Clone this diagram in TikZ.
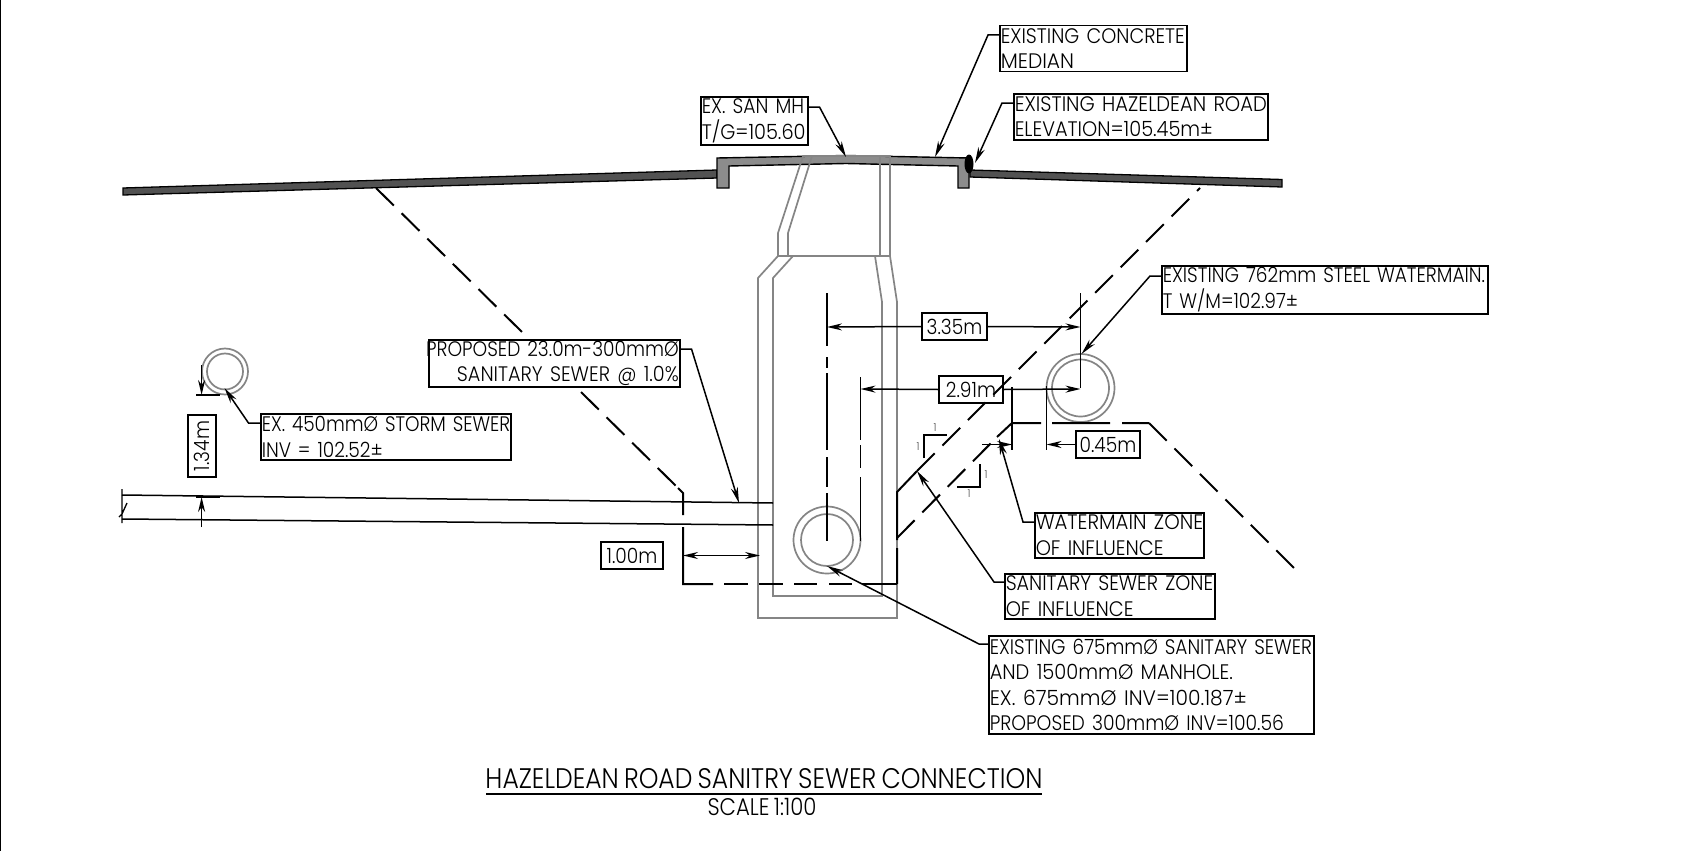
\documentclass[tikz,border=0pt]{standalone}
\usepackage{fontspec}
\setmainfont{Poppins}[UprightFont={* Light},FakeStretch=0.885,WordSpace=0.75]
\usetikzlibrary{arrows.meta}
\newcommand{\lnl}[2][1]{\makebox[\linewidth][l]{\scalebox{#1}[1]{#2}}}
\newcommand{\lnr}[2][1]{\makebox[\linewidth][r]{\scalebox{#1}[1]{#2}}}
\tikzset{
  lbl/.style={draw=black,line width=1.5pt,inner sep=1pt,anchor=north west,align=left,font=\fontsize{21}{25.5}\selectfont},
  dimbox/.style={draw=black,line width=1.6pt,inner sep=0pt,anchor=center,align=center,font=\fontsize{21}{25}\selectfont},
  leader/.style={line width=1.5pt,-{Stealth[length=16pt,width=7pt]}},
  dimline/.style={line width=1.5pt,-{Stealth[length=15pt,width=7pt]}},
  ext/.style={line width=1.5pt},
  mh/.style={draw=black!48,line width=1.7pt},
  zone/.style={line width=2pt,dash pattern=on 25pt off 11pt},
  zonesolid/.style={line width=2pt},
  tiny1/.style={font=\fontsize{11}{11}\selectfont,text=black!70,inner sep=0pt},
  slope/.style={line width=1.3pt}
}
\begin{document}
\begin{tikzpicture}[x=1pt,y=-1pt]
\useasboundingbox (0,0) rectangle (1706,851);
\fill[white] (0,0) rectangle (1706,851);
\draw[line width=1.4pt] (0.7,0) -- (0.7,851);
% road
\draw[fill=black!68,line width=1.3pt] (123,188) -- (717,170) -- (717,178) -- (123,195) -- cycle;
\draw[fill=black!68,line width=1.3pt] (970,170) -- (1282,179.5) -- (1282,187) -- (970,177) -- cycle;
% median
\draw[fill=black!45,line width=1.4pt] (717,158) -- (846,155.5) -- (969,158) -- (969,188) -- (958,188) -- (958,166) -- (846,163.5) -- (729,166) -- (729,188) -- (717,188) -- cycle;
\fill[black] (969,164) ellipse [x radius=4.5pt,y radius=9.5pt];
% manhole
\draw[mh] (803,156) -- (778,233) -- (778,256) -- (758,278) -- (758,618) -- (897,618) -- (897,302) -- (890,256) -- (890,156) -- cycle;
\draw[mh] (812,156) -- (788,233) -- (788,256);
\draw[mh] (880,156) -- (880,256);
\draw[mh] (778,256) -- (890,256);
\draw[mh] (793,256) -- (773,278) -- (773,596) -- (882,596) -- (882,302) -- (875,256);
\draw[mh] (827,540) circle (33.5pt);
\draw[mh] (827,540) circle (26pt);
\draw[mh] (1080.5,388) circle (34pt);
\draw[mh] (1080.5,388) circle (28.5pt);
\draw[mh] (225,371.5) circle (23pt);
\draw[mh] (225,371.5) circle (18pt);
% pipe
\draw[line width=1.5pt] (122,495) -- (773,503);
\draw[line width=1.5pt] (122,519) -- (773,525);
\draw[line width=1.3pt] (122,489) -- (122,523) (127,503) -- (122,514) -- (119,517);
% zones of influence
\draw[zone] (376,188) -- (522,332);
\draw[zone] (581,392) -- (678,488);
\draw[zonesolid] (678,488) -- (683,493) -- (683,515) (683,527) -- (683,584) -- (713,584);
\draw[zonesolid] (724,584) -- (748,584) (759,584) -- (783,584) (794,584) -- (817,584) (829,584) -- (852,584) (862,584) -- (897,584);
\draw[zonesolid] (897,584) -- (897,548) (897,540) -- (897,492) -- (917,471);
\draw[zone] (917,471) -- (1200,188);
\draw[zone] (897,538) -- (997,437);
\draw[zonesolid] (997,437) -- (1012,423) -- (1041,423) (1052,423) -- (1110,423) (1122,423) -- (1149,423);
\draw[zone] (1149,423) -- (1297,571);
% slope marks
\draw[slope] (924,458) -- (924,435) -- (947,435);
\draw[slope] (957,487) -- (980,487) -- (980,464);
\node[tiny1] (s1) at (935,428) {1};
\node[tiny1] (s2) at (918,447) {1};
\node[tiny1] (s3) at (969,494) {1};
\node[tiny1] (s4) at (986,475) {1};
% extension lines
\draw[ext] (827,293) -- (827,346) (827,357) -- (827,368) (827,373) -- (827,450) (827,457) -- (827,487) (827,493) -- (827,541);
\draw[ext] (1080.5,293) -- (1080.5,388);
\draw[ext] (860.5,377) -- (860.5,440) (860.5,445) -- (860.5,468) (860.5,477) -- (860.5,541);
\draw[ext] (1012,387) -- (1012,450);
\draw[ext] (1046.5,386) -- (1046.5,450);
\draw[ext] (196,395) -- (219.5,395);
\draw[ext] (196,497) -- (219.5,497);
% dimension boxes
\node[dimbox,minimum width=65pt,minimum height=27pt] (d335) at (954.5,326.5) {3.35m};
\node[dimbox,minimum width=64pt,minimum height=27pt] (d291) at (971,389.5) {2.91m};
\node[dimbox,minimum width=64.5pt,minimum height=27pt] (d045) at (1108,444.5) {0.45m};
\node[dimbox,minimum width=62pt,minimum height=27pt] (d100) at (632,555.5) {1.00m};
\node[dimbox,minimum width=28pt,minimum height=62pt] (d134) at (202,446) {\rotatebox{90}{1.34m}};
\coordinate (t335l) at (827,327);
\coordinate (t335r) at (1080.5,327);
\coordinate (t291l) at (860.5,389);
\coordinate (t291r) at (1080.5,389);
\coordinate (t045) at (1046.5,444.5);
\coordinate (t045b) at (1012,444.5);
\coordinate (s045b) at (982,444.5);
\coordinate (t100l) at (683,555.5);
\coordinate (t100r) at (760,555.5);
\coordinate (m100) at (720,555.5);
\coordinate (d134a) at (201.6,365);
\coordinate (d134at) at (201.6,395);
\coordinate (d134b) at (201.6,527);
\coordinate (d134bt) at (201.6,497);
\draw[dimline] (d335.west) -- (t335l);
\draw[dimline] (d335.east) -- (t335r);
\draw[dimline] (d291.west) -- (t291l);
\draw[dimline] (d291.east) -- (t291r);
\draw[dimline] (d045.west) -- (t045);
\draw[dimline] (s045b) -- (t045b);
\draw[dimline] (m100) -- (t100l);
\draw[dimline] (m100) -- (t100r);
\draw[dimline] (d134a) -- (d134at);
\draw[dimline] (d134b) -- (d134bt);
% label boxes
\node[lbl,text width=185pt,minimum height=46pt] (median) at (999,25) {\lnl[1.03]{EXISTING CONCRETE}\\\lnl[1.09]{MEDIAN}};
\node[lbl,text width=252pt,minimum height=46pt] (road) at (1013,93) {\lnl[1.05]{EXISTING HAZELDEAN ROAD}\\\lnl[1.04]{ELEVATION=105.45m±}};
\node[lbl,text width=105pt,minimum height=48pt] (sanmh) at (700,96) {\lnl[1.01]{EX. SAN MH}\\\lnl[1.04]{T/G=105.60}};
\node[lbl,text width=324pt,minimum height=48pt] (wm) at (1161,265) {\lnl{EXISTING 762mm STEEL WATERMAIN.}\\\lnl{T W/M=102.97±}};
\node[lbl,text width=249pt,minimum height=47pt] (prop) at (428,339) {\lnr{PROPOSED 23.0m-300mmØ}\\\lnr[1.035]{SANITARY SEWER @ 1.0\%}};
\node[lbl,text width=248pt,minimum height=46pt] (storm) at (260,413) {\lnl[0.99]{EX. 450mmØ STORM SEWER}\\\lnl{INV = 102.52±}};
\node[lbl,text width=167pt,minimum height=45pt] (wmz) at (1034,512) {\lnl[1.06]{WATERMAIN ZONE}\\\lnl[1.04]{OF INFLUENCE}};
\node[lbl,text width=208pt,minimum height=45pt] (ssz) at (1004,573) {\lnl[1.03]{SANITARY SEWER ZONE}\\\lnl[1.04]{OF INFLUENCE}};
\node[lbl,text width=323pt,minimum height=98pt] (ex) at (988,635) {\lnl[0.995]{EXISTING 675mmØ SANITARY SEWER}\\\lnl[1.045]{AND 1500mmØ MANHOLE.}\\\lnl[1.09]{EX. 675mmØ INV=100.187±}\\\lnl[1.01]{PROPOSED 300mmØ INV=100.56}};
% leaders
\coordinate (tmedian) at (935,157);
\coordinate (troad) at (975,163);
\coordinate (tsanmh) at (846,157);
\coordinate (twm) at (1081.5,354);
\coordinate (tprop) at (739,503);
\coordinate (tstorm) at (224.5,388);
\coordinate (twmz) at (999,439);
\coordinate (tssz) at (917,471);
\coordinate (tex) at (827,566);
\draw[leader] ([yshift=-10pt]median.north west) -- ++(-11,0) -- (tmedian);
\draw[leader] ([yshift=-10pt]road.north west) -- ++(-11,0) -- (troad);
\draw[leader] ([yshift=-11pt]sanmh.north east) -- ++(11,0) -- (tsanmh);
\draw[leader] ([yshift=-11pt]wm.north west) -- ++(-11,0) -- (twm);
\draw[leader] ([yshift=-10pt]prop.north east) -- ++(11,0) -- (tprop);
\draw[leader] ([yshift=-10pt]storm.north west) -- ++(-11.5,0) -- (tstorm);
\draw[leader] ([yshift=-10pt]wmz.north west) -- ++(-11,0) -- (twmz);
\draw[leader] ([yshift=-9pt]ssz.north west) -- ++(-10,0) -- (tssz);
\draw[leader] ([yshift=-9pt]ex.north west) -- ++(-9,0) -- (tex);
% title
\node[inner sep=0pt,font=\fontsize{28.3}{30}\selectfont] (title) at (764,779) {HAZELDEAN ROAD SANITRY SEWER CONNECTION};
\draw[line width=1.4pt] (486,794) -- (1042,794);
\node[inner sep=0pt,font=\fontsize{24}{25}\selectfont] (scale) at (762,807) {SCALE 1:100};
\end{tikzpicture}
\end{document}
